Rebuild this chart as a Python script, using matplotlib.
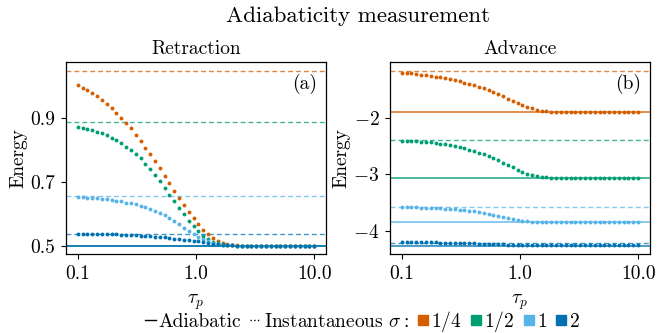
import matplotlib
matplotlib.use("Agg")
import matplotlib.pyplot as plt
from matplotlib.lines import Line2D
from matplotlib.ticker import FixedLocator, FixedFormatter, NullLocator

plt.rcParams.update({
    "font.family": "serif",
    "font.serif": ["cmr10"],
    "mathtext.fontset": "cm",
    "axes.formatter.use_mathtext": True,
    "axes.unicode_minus": False,
    "font.size": 14,
})

# ── data ────────────────────────────────────────────────────────────────
tau = [0.1, 0.1099, 0.1207, 0.1326, 0.1456, 0.1600, 0.1758, 0.1931, 0.2121, 0.2330,
       0.2560, 0.2812, 0.3089, 0.3393, 0.3728, 0.4095, 0.4498, 0.4942, 0.5429, 0.5964,
       0.6551, 0.7197, 0.7906, 0.8685, 0.9541, 1.0481, 1.1514, 1.2649, 1.3895, 1.5264,
       1.6768, 1.8421, 2.0236, 2.2230, 2.4421, 2.6827, 2.9471, 3.2375, 3.5565, 3.9069,
       4.2919, 4.7149, 5.1795, 5.6899, 6.2506, 6.8665, 7.5431, 8.2864, 9.1030, 10.0]

sigma_labels = ["$1/4$", "$1/2$", "$1$", "$2$"]
colors = ["#D55E00", "#009E73", "#56B4E9", "#0072B2"]

# retraction: finite-time sweep, adiabatic and sudden (instantaneous) limits
ret_adiabatic = [0.500, 0.500, 0.500, 0.500]
ret_instant = [1.047, 0.886, 0.655, 0.536]
ret_quarter = [1.002, 0.995, 0.988, 0.978, 0.968, 0.957, 0.945, 0.931, 0.917, 0.901,
               0.884, 0.868, 0.848, 0.828, 0.807, 0.787, 0.765, 0.742, 0.719, 0.695,
               0.672, 0.649, 0.627, 0.605, 0.585, 0.567, 0.550, 0.536, 0.523, 0.515,
               0.509, 0.505, 0.503, 0.501, 0.500, 0.500, 0.500, 0.500, 0.500, 0.500,
               0.500, 0.500, 0.500, 0.500, 0.500, 0.500, 0.500, 0.500, 0.500, 0.500]
ret_half = [0.872, 0.869, 0.866, 0.863, 0.857, 0.852, 0.846, 0.838, 0.830, 0.821,
            0.810, 0.799, 0.786, 0.773, 0.757, 0.739, 0.722, 0.702, 0.681, 0.660,
            0.640, 0.619, 0.598, 0.578, 0.560, 0.545, 0.530, 0.520, 0.511, 0.507,
            0.504, 0.502, 0.501, 0.500, 0.500, 0.500, 0.500, 0.500, 0.500, 0.500,
            0.500, 0.500, 0.500, 0.500, 0.500, 0.500, 0.500, 0.500, 0.500, 0.500]
ret_one = [0.652, 0.652, 0.650, 0.649, 0.648, 0.646, 0.645, 0.643, 0.641, 0.639,
           0.635, 0.632, 0.629, 0.625, 0.621, 0.616, 0.609, 0.602, 0.595, 0.587,
           0.577, 0.567, 0.556, 0.545, 0.537, 0.527, 0.520, 0.514, 0.509, 0.506,
           0.503, 0.502, 0.501, 0.500, 0.500, 0.500, 0.500, 0.500, 0.500, 0.500,
           0.500, 0.500, 0.500, 0.500, 0.500, 0.500, 0.500, 0.500, 0.500, 0.500]
ret_two = [0.536, 0.536, 0.536, 0.536, 0.536, 0.535, 0.535, 0.535, 0.535, 0.534,
           0.534, 0.533, 0.532, 0.531, 0.530, 0.529, 0.528, 0.527, 0.526, 0.524,
           0.522, 0.520, 0.518, 0.516, 0.515, 0.513, 0.510, 0.508, 0.506, 0.505,
           0.503, 0.502, 0.501, 0.500, 0.500, 0.500, 0.500, 0.500, 0.500, 0.500,
           0.500, 0.500, 0.500, 0.500, 0.500, 0.500, 0.500, 0.500, 0.500, 0.500]

adv_adiabatic = [-1.888, -3.057, -3.851, -4.267]
adv_instant = [-1.158, -2.386, -3.578, -4.219]
adv_quarter = [-1.188, -1.194, -1.200, -1.212, -1.224, -1.235, -1.247, -1.259, -1.271, -1.289,
               -1.307, -1.324, -1.342, -1.366, -1.390, -1.413, -1.437, -1.467, -1.502, -1.538,
               -1.573, -1.609, -1.651, -1.686, -1.722, -1.757, -1.793, -1.823, -1.846, -1.864,
               -1.876, -1.882, -1.888, -1.888, -1.888, -1.888, -1.888, -1.888, -1.888, -1.888,
               -1.888, -1.888, -1.888, -1.888, -1.888, -1.888, -1.888, -1.888, -1.888, -1.888]
adv_half = [-2.398, -2.404, -2.404, -2.410, -2.416, -2.422, -2.428, -2.440, -2.451, -2.463,
            -2.475, -2.493, -2.511, -2.534, -2.558, -2.582, -2.612, -2.641, -2.677, -2.712,
            -2.748, -2.789, -2.831, -2.872, -2.914, -2.950, -2.985, -3.015, -3.033, -3.044,
            -3.050, -3.056, -3.056, -3.056, -3.056, -3.056, -3.056, -3.056, -3.056, -3.056,
            -3.056, -3.056, -3.056, -3.056, -3.056, -3.056, -3.056, -3.056, -3.056, -3.056]
adv_one = [-3.580, -3.584, -3.584, -3.584, -3.590, -3.590, -3.596, -3.596, -3.602, -3.608,
           -3.614, -3.620, -3.626, -3.632, -3.644, -3.655, -3.667, -3.679, -3.697, -3.715,
           -3.733, -3.750, -3.768, -3.786, -3.804, -3.822, -3.833, -3.839, -3.845, -3.851,
           -3.851, -3.851, -3.851, -3.851, -3.851, -3.851, -3.851, -3.851, -3.851, -3.851,
           -3.851, -3.851, -3.851, -3.851, -3.851, -3.851, -3.851, -3.851, -3.851, -3.851]
adv_two = [-4.208, -4.208, -4.209, -4.209, -4.210, -4.210, -4.211, -4.212, -4.213, -4.214,
           -4.215, -4.217, -4.219, -4.221, -4.224, -4.227, -4.230, -4.233, -4.237, -4.240,
           -4.244, -4.247, -4.250, -4.253, -4.255, -4.257, -4.259, -4.260, -4.261, -4.262,
           -4.262, -4.262, -4.262, -4.262, -4.262, -4.262, -4.262, -4.262, -4.262, -4.262,
           -4.262, -4.262, -4.262, -4.262, -4.262, -4.262, -4.262, -4.262, -4.262, -4.262]

x_ticks = [0.1, 1.0, 10.0]
x_ticklabels = ["0.1", "1.0", "10.0"]
ret_yticks = [0.5, 0.7, 0.9]
ret_yticklabels = ["0.5", "0.7", "0.9"]
adv_yticks = [-4, -3, -2]
adv_yticklabels = ["$-4$", "$-3$", "$-2$"]


def draw_panel(ax, curves, adiabatic, instant, title, tag, yticks, yticklabels):
    for c, e_ad, e_in in zip(colors, adiabatic, instant):
        ax.axhline(e_in, color=c, lw=1.0, alpha=0.75, dashes=(3.5, 2.2))
        ax.axhline(e_ad, color=c, lw=1.4, alpha=0.7)
    for c, y in zip(colors, curves):
        ax.plot(tau, y, "o", color=c, ms=2.8, mew=0)
    # keep the sudden-limit lines inside the autoscaled range
    ax.plot(tau[:1] * 2, [min(adiabatic), max(instant)], alpha=0)

    ax.set_xscale("log")
    ax.xaxis.set_major_locator(FixedLocator(x_ticks))
    ax.xaxis.set_major_formatter(FixedFormatter(x_ticklabels))
    ax.xaxis.set_minor_locator(NullLocator())
    ax.yaxis.set_major_locator(FixedLocator(yticks))
    ax.yaxis.set_major_formatter(FixedFormatter(yticklabels))
    ax.yaxis.set_minor_locator(NullLocator())
    ax.tick_params(length=3.5, width=0.8, pad=4)
    for s in ax.spines.values():
        s.set_linewidth(0.9)

    ax.set_title(title, fontsize=14, pad=6)
    ax.set_xlabel(r"$\tau_p$", labelpad=7)
    ax.set_ylabel("Energy", labelpad=2)
    ax.text(0.965, 0.94, tag, transform=ax.transAxes, ha="right", va="top", fontsize=14)


fig = plt.figure(figsize=(6.68, 3.33), dpi=100)
ax_r = fig.add_axes([0.0988, 0.2363, 0.3892, 0.5766])
ax_a = fig.add_axes([0.5838, 0.2363, 0.3892, 0.5766])

draw_panel(ax_r, [ret_quarter, ret_half, ret_one, ret_two], ret_adiabatic, ret_instant,
           "Retraction", "(a)", ret_yticks, ret_yticklabels)
draw_panel(ax_a, [adv_quarter, adv_half, adv_one, adv_two], adv_adiabatic, adv_instant,
           "Advance", "(b)", adv_yticks, adv_yticklabels)

fig.suptitle("Adiabaticity measurement", x=0.536, y=0.98, fontsize=16.5)

handles = [Line2D([], [], color="k", lw=1.0),
           Line2D([], [], color="k", lw=1.0, ls=":")]
labels = ["Adiabatic", r"Instantaneous $\sigma:$"]
for c, lab in zip(colors, sigma_labels):
    handles.append(Line2D([], [], color=c, marker="s", ls="none", ms=6.5))
    labels.append(lab)

fig.legend(handles, labels, loc="center", bbox_to_anchor=(0.543, 0.035), ncol=6,
           frameon=False, handlelength=0.55, handletextpad=0.15, columnspacing=0.45,
           borderpad=0, fontsize=14)

fig.savefig("out.png", dpi=100)
